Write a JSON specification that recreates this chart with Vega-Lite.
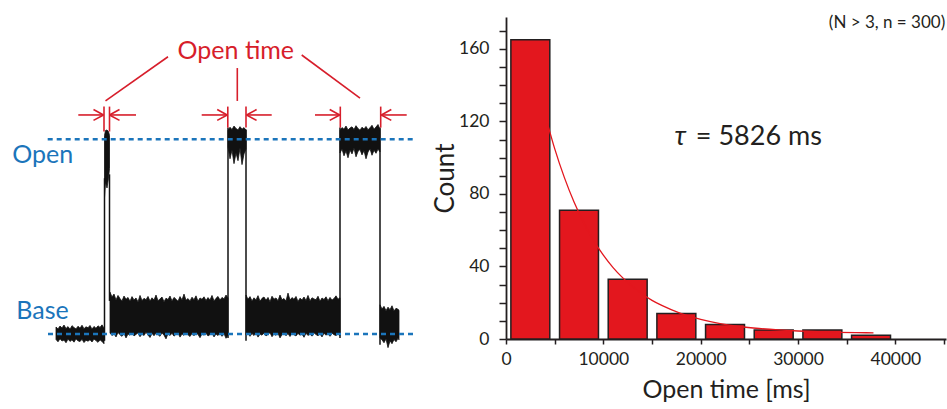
{
  "$schema": "https://vega.github.io/schema/vega-lite/v6.json",
  "width": 440,
  "height": 322,
  "autosize": "none",
  "padding": {"left": 506, "top": 17, "right": 1, "bottom": 70},
  "background": "white",
  "config": {"view": {"stroke": null}, "font": "Lato"},
  "datasets": {
    "bins": [
      {"start": 500, "end": 4500, "count": 165},
      {"start": 5500, "end": 9500, "count": 71},
      {"start": 10500, "end": 14500, "count": 33},
      {"start": 15500, "end": 19500, "count": 14},
      {"start": 20500, "end": 24500, "count": 8},
      {"start": 25500, "end": 29500, "count": 5},
      {"start": 30500, "end": 34500, "count": 5},
      {"start": 35500, "end": 39500, "count": 2}
    ],
    "fit": [
      {"open_time": 4250, "count": 119.1}, {"open_time": 5000, "count": 105.0},
      {"open_time": 6000, "count": 89.0}, {"open_time": 7000, "count": 75.4},
      {"open_time": 8000, "count": 64.0}, {"open_time": 9000, "count": 54.3},
      {"open_time": 10000, "count": 46.3}, {"open_time": 11000, "count": 39.4},
      {"open_time": 12000, "count": 33.7}, {"open_time": 13000, "count": 28.9},
      {"open_time": 14000, "count": 24.8}, {"open_time": 15000, "count": 21.3},
      {"open_time": 16000, "count": 18.5}, {"open_time": 18000, "count": 14.0},
      {"open_time": 20000, "count": 10.8}, {"open_time": 22000, "count": 8.5},
      {"open_time": 24000, "count": 6.9}, {"open_time": 26000, "count": 5.8},
      {"open_time": 28000, "count": 5.0}, {"open_time": 30000, "count": 4.4},
      {"open_time": 32000, "count": 4.0}, {"open_time": 34000, "count": 3.7},
      {"open_time": 36000, "count": 3.5}, {"open_time": 37750, "count": 3.4}
    ],
    "tau_symbol": [
      {"open_time": 17300, "count": 107, "label": "τ"}
    ],
    "tau_value": [
      {"open_time": 32450, "count": 107, "label": "= 5826 ms"}
    ],
    "corner": [
      {"open_time": 45118, "count": 171.4, "label": "(N > 3, n = 300)"}
    ],
    "bands": [
      {"seg": "A", "t": 5.6, "hi": 0.036, "lo": -0.028},
      {"seg": "A", "t": 5.8, "hi": 0.026, "lo": -0.040},
      {"seg": "A", "t": 6.0, "hi": 0.041, "lo": -0.024},
      {"seg": "A", "t": 6.2, "hi": 0.031, "lo": -0.036},
      {"seg": "A", "t": 6.4, "hi": 0.046, "lo": -0.031},
      {"seg": "A", "t": 6.6, "hi": 0.028, "lo": -0.045},
      {"seg": "A", "t": 6.8, "hi": 0.038, "lo": -0.026},
      {"seg": "A", "t": 7.0, "hi": 0.024, "lo": -0.038},
      {"seg": "A", "t": 7.2, "hi": 0.043, "lo": -0.030},
      {"seg": "A", "t": 7.4, "hi": 0.033, "lo": -0.042},
      {"seg": "A", "t": 7.6, "hi": 0.026, "lo": -0.025},
      {"seg": "A", "t": 7.8, "hi": 0.040, "lo": -0.035},
      {"seg": "A", "t": 8.0, "hi": 0.030, "lo": -0.039},
      {"seg": "A", "t": 8.2, "hi": 0.045, "lo": -0.027},
      {"seg": "A", "t": 8.4, "hi": 0.027, "lo": -0.044},
      {"seg": "A", "t": 8.6, "hi": 0.037, "lo": -0.032},
      {"seg": "A", "t": 8.8, "hi": 0.032, "lo": -0.037},
      {"seg": "A", "t": 9.0, "hi": 0.044, "lo": -0.029},
      {"seg": "A", "t": 9.2, "hi": 0.025, "lo": -0.041},
      {"seg": "A", "t": 9.4, "hi": 0.039, "lo": -0.026},
      {"seg": "A", "t": 9.6, "hi": 0.029, "lo": -0.034},
      {"seg": "A", "t": 9.8, "hi": 0.042, "lo": -0.043},
      {"seg": "A", "t": 10.0, "hi": 0.034, "lo": -0.030},
      {"seg": "A", "t": 10.2, "hi": 0.047, "lo": -0.038},
      {"seg": "A", "t": 10.4, "hi": 0.030, "lo": -0.050},
      {"seg": "S", "t": 10.45, "hi": 1.02, "lo": 0.70},
      {"seg": "S", "t": 10.55, "hi": 1.045, "lo": 0.78},
      {"seg": "S", "t": 10.7, "hi": 1.048, "lo": 0.75},
      {"seg": "S", "t": 10.85, "hi": 1.04, "lo": 0.80},
      {"seg": "S", "t": 10.95, "hi": 1.02, "lo": 0.85},
      {"seg": "B", "t": 11.0, "hi": 0.215, "lo": 0.005},
      {"seg": "B", "t": 11.2, "hi": 0.190, "lo": -0.008},
      {"seg": "B", "t": 11.4, "hi": 0.205, "lo": 0.002},
      {"seg": "B", "t": 11.6, "hi": 0.175, "lo": -0.015},
      {"seg": "B", "t": 11.8, "hi": 0.198, "lo": 0.008},
      {"seg": "B", "t": 12.0, "hi": 0.182, "lo": -0.004},
      {"seg": "B", "t": 12.2, "hi": 0.170, "lo": -0.012},
      {"seg": "B", "t": 12.4, "hi": 0.195, "lo": 0.004},
      {"seg": "B", "t": 12.6, "hi": 0.178, "lo": -0.020},
      {"seg": "B", "t": 12.8, "hi": 0.188, "lo": 0.000},
      {"seg": "B", "t": 13.0, "hi": 0.168, "lo": -0.006},
      {"seg": "B", "t": 13.2, "hi": 0.192, "lo": 0.007},
      {"seg": "B", "t": 13.4, "hi": 0.175, "lo": -0.010},
      {"seg": "B", "t": 13.6, "hi": 0.185, "lo": -0.002},
      {"seg": "B", "t": 13.8, "hi": 0.165, "lo": 0.006},
      {"seg": "B", "t": 14.0, "hi": 0.198, "lo": -0.014},
      {"seg": "B", "t": 14.2, "hi": 0.172, "lo": 0.001},
      {"seg": "B", "t": 14.4, "hi": 0.183, "lo": -0.008},
      {"seg": "B", "t": 14.6, "hi": 0.176, "lo": 0.009},
      {"seg": "B", "t": 14.8, "hi": 0.193, "lo": -0.005},
      {"seg": "B", "t": 15.0, "hi": 0.169, "lo": -0.018},
      {"seg": "B", "t": 15.2, "hi": 0.186, "lo": 0.003},
      {"seg": "B", "t": 15.4, "hi": 0.174, "lo": -0.009},
      {"seg": "B", "t": 15.6, "hi": 0.200, "lo": 0.005},
      {"seg": "B", "t": 15.8, "hi": 0.171, "lo": -0.003},
      {"seg": "B", "t": 16.0, "hi": 0.180, "lo": -0.012},
      {"seg": "B", "t": 16.2, "hi": 0.190, "lo": 0.006},
      {"seg": "B", "t": 16.4, "hi": 0.166, "lo": -0.006},
      {"seg": "B", "t": 16.6, "hi": 0.184, "lo": -0.025},
      {"seg": "B", "t": 16.8, "hi": 0.177, "lo": 0.002},
      {"seg": "B", "t": 17.0, "hi": 0.195, "lo": -0.008},
      {"seg": "B", "t": 17.2, "hi": 0.170, "lo": 0.004},
      {"seg": "B", "t": 17.4, "hi": 0.188, "lo": -0.011},
      {"seg": "B", "t": 17.6, "hi": 0.179, "lo": -0.001},
      {"seg": "B", "t": 17.8, "hi": 0.168, "lo": 0.007},
      {"seg": "B", "t": 18.0, "hi": 0.192, "lo": -0.016},
      {"seg": "B", "t": 18.2, "hi": 0.175, "lo": 0.000},
      {"seg": "B", "t": 18.4, "hi": 0.205, "lo": -0.007},
      {"seg": "B", "t": 18.6, "hi": 0.173, "lo": 0.005},
      {"seg": "B", "t": 18.8, "hi": 0.182, "lo": -0.004},
      {"seg": "B", "t": 19.0, "hi": 0.170, "lo": -0.013},
      {"seg": "B", "t": 19.2, "hi": 0.189, "lo": 0.003},
      {"seg": "B", "t": 19.4, "hi": 0.176, "lo": -0.009},
      {"seg": "B", "t": 19.6, "hi": 0.196, "lo": 0.006},
      {"seg": "B", "t": 19.8, "hi": 0.168, "lo": -0.002},
      {"seg": "B", "t": 20.0, "hi": 0.185, "lo": -0.019},
      {"seg": "B", "t": 20.2, "hi": 0.178, "lo": 0.001},
      {"seg": "B", "t": 20.4, "hi": 0.191, "lo": -0.006},
      {"seg": "B", "t": 20.6, "hi": 0.172, "lo": 0.004},
      {"seg": "B", "t": 20.8, "hi": 0.187, "lo": -0.010},
      {"seg": "B", "t": 21.0, "hi": 0.175, "lo": -0.003},
      {"seg": "B", "t": 21.2, "hi": 0.198, "lo": 0.006},
      {"seg": "B", "t": 21.4, "hi": 0.170, "lo": -0.015},
      {"seg": "B", "t": 21.6, "hi": 0.183, "lo": 0.000},
      {"seg": "B", "t": 21.8, "hi": 0.193, "lo": -0.008},
      {"seg": "B", "t": 22.0, "hi": 0.174, "lo": 0.004},
      {"seg": "B", "t": 22.2, "hi": 0.188, "lo": -0.012},
      {"seg": "B", "t": 22.4, "hi": 0.180, "lo": 0.002},
      {"seg": "B", "t": 22.6, "hi": 0.200, "lo": -0.022},
      {"seg": "B", "t": 22.8, "hi": 0.185, "lo": -0.005},
      {"seg": "O2", "t": 22.8, "hi": 1.045, "lo": 0.960},
      {"seg": "O2", "t": 23.0, "hi": 1.062, "lo": 0.900},
      {"seg": "O2", "t": 23.2, "hi": 1.050, "lo": 0.945},
      {"seg": "O2", "t": 23.4, "hi": 1.068, "lo": 0.875},
      {"seg": "O2", "t": 23.6, "hi": 1.055, "lo": 0.930},
      {"seg": "O2", "t": 23.8, "hi": 1.048, "lo": 0.890},
      {"seg": "O2", "t": 24.0, "hi": 1.065, "lo": 0.955},
      {"seg": "O2", "t": 24.2, "hi": 1.052, "lo": 0.870},
      {"seg": "O2", "t": 24.4, "hi": 1.060, "lo": 0.925},
      {"seg": "O2", "t": 24.6, "hi": 1.047, "lo": 0.950},
      {"seg": "C", "t": 24.6, "hi": 0.200, "lo": -0.005},
      {"seg": "C", "t": 24.8, "hi": 0.178, "lo": 0.004},
      {"seg": "C", "t": 25.0, "hi": 0.192, "lo": -0.012},
      {"seg": "C", "t": 25.2, "hi": 0.170, "lo": 0.002},
      {"seg": "C", "t": 25.4, "hi": 0.186, "lo": -0.008},
      {"seg": "C", "t": 25.6, "hi": 0.175, "lo": 0.006},
      {"seg": "C", "t": 25.8, "hi": 0.197, "lo": -0.016},
      {"seg": "C", "t": 26.0, "hi": 0.168, "lo": 0.000},
      {"seg": "C", "t": 26.2, "hi": 0.183, "lo": -0.006},
      {"seg": "C", "t": 26.4, "hi": 0.190, "lo": 0.005},
      {"seg": "C", "t": 26.6, "hi": 0.173, "lo": -0.010},
      {"seg": "C", "t": 26.8, "hi": 0.188, "lo": -0.002},
      {"seg": "C", "t": 27.0, "hi": 0.166, "lo": 0.007},
      {"seg": "C", "t": 27.2, "hi": 0.194, "lo": -0.014},
      {"seg": "C", "t": 27.4, "hi": 0.179, "lo": 0.001},
      {"seg": "C", "t": 27.6, "hi": 0.185, "lo": -0.007},
      {"seg": "C", "t": 27.8, "hi": 0.171, "lo": 0.004},
      {"seg": "C", "t": 28.0, "hi": 0.200, "lo": -0.020},
      {"seg": "C", "t": 28.2, "hi": 0.176, "lo": -0.003},
      {"seg": "C", "t": 28.4, "hi": 0.182, "lo": 0.006},
      {"seg": "C", "t": 28.6, "hi": 0.169, "lo": -0.009},
      {"seg": "C", "t": 28.8, "hi": 0.210, "lo": 0.002},
      {"seg": "C", "t": 29.0, "hi": 0.174, "lo": -0.013},
      {"seg": "C", "t": 29.2, "hi": 0.187, "lo": 0.005},
      {"seg": "C", "t": 29.4, "hi": 0.178, "lo": -0.004},
      {"seg": "C", "t": 29.6, "hi": 0.193, "lo": -0.010},
      {"seg": "C", "t": 29.8, "hi": 0.167, "lo": 0.003},
      {"seg": "C", "t": 30.0, "hi": 0.184, "lo": -0.006},
      {"seg": "C", "t": 30.2, "hi": 0.175, "lo": 0.000},
      {"seg": "C", "t": 30.4, "hi": 0.190, "lo": -0.017},
      {"seg": "C", "t": 30.6, "hi": 0.172, "lo": 0.004},
      {"seg": "C", "t": 30.8, "hi": 0.198, "lo": -0.008},
      {"seg": "C", "t": 31.0, "hi": 0.170, "lo": 0.002},
      {"seg": "C", "t": 31.2, "hi": 0.186, "lo": -0.011},
      {"seg": "C", "t": 31.4, "hi": 0.180, "lo": 0.006},
      {"seg": "C", "t": 31.6, "hi": 0.176, "lo": -0.003},
      {"seg": "C", "t": 31.8, "hi": 0.194, "lo": -0.009},
      {"seg": "C", "t": 32.0, "hi": 0.168, "lo": 0.001},
      {"seg": "C", "t": 32.2, "hi": 0.185, "lo": -0.015},
      {"seg": "C", "t": 32.4, "hi": 0.177, "lo": 0.004},
      {"seg": "C", "t": 32.6, "hi": 0.191, "lo": -0.006},
      {"seg": "C", "t": 32.8, "hi": 0.171, "lo": 0.002},
      {"seg": "C", "t": 33.0, "hi": 0.188, "lo": -0.012},
      {"seg": "C", "t": 33.2, "hi": 0.174, "lo": 0.005},
      {"seg": "C", "t": 33.4, "hi": 0.182, "lo": -0.004},
      {"seg": "C", "t": 33.6, "hi": 0.196, "lo": -0.008},
      {"seg": "C", "t": 33.8, "hi": 0.179, "lo": 0.000},
      {"seg": "C", "t": 34.0, "hi": 0.186, "lo": -0.010},
      {"seg": "O3", "t": 34.0, "hi": 1.045, "lo": 0.930},
      {"seg": "O3", "t": 34.2, "hi": 1.060, "lo": 0.950},
      {"seg": "O3", "t": 34.4, "hi": 1.052, "lo": 0.915},
      {"seg": "O3", "t": 34.6, "hi": 1.068, "lo": 0.940},
      {"seg": "O3", "t": 34.8, "hi": 1.048, "lo": 0.905},
      {"seg": "O3", "t": 35.0, "hi": 1.058, "lo": 0.945},
      {"seg": "O3", "t": 35.2, "hi": 1.064, "lo": 0.925},
      {"seg": "O3", "t": 35.4, "hi": 1.050, "lo": 0.955},
      {"seg": "O3", "t": 35.6, "hi": 1.070, "lo": 0.910},
      {"seg": "O3", "t": 35.8, "hi": 1.055, "lo": 0.938},
      {"seg": "O3", "t": 36.0, "hi": 1.047, "lo": 0.948},
      {"seg": "O3", "t": 36.2, "hi": 1.062, "lo": 0.920},
      {"seg": "O3", "t": 36.4, "hi": 1.053, "lo": 0.942},
      {"seg": "O3", "t": 36.6, "hi": 1.066, "lo": 0.900},
      {"seg": "O3", "t": 36.8, "hi": 1.049, "lo": 0.935},
      {"seg": "O3", "t": 37.0, "hi": 1.059, "lo": 0.952},
      {"seg": "O3", "t": 37.2, "hi": 1.072, "lo": 0.918},
      {"seg": "O3", "t": 37.4, "hi": 1.051, "lo": 0.944},
      {"seg": "O3", "t": 37.6, "hi": 1.063, "lo": 0.928},
      {"seg": "O3", "t": 37.8, "hi": 1.076, "lo": 0.950},
      {"seg": "O3", "t": 38.0, "hi": 1.050, "lo": 0.935},
      {"seg": "D", "t": 38.0, "hi": 0.150, "lo": -0.020},
      {"seg": "D", "t": 38.2, "hi": 0.128, "lo": -0.030},
      {"seg": "D", "t": 38.4, "hi": 0.142, "lo": -0.045},
      {"seg": "D", "t": 38.6, "hi": 0.120, "lo": -0.025},
      {"seg": "D", "t": 38.8, "hi": 0.138, "lo": -0.070},
      {"seg": "D", "t": 39.0, "hi": 0.125, "lo": -0.035},
      {"seg": "D", "t": 39.2, "hi": 0.145, "lo": -0.050},
      {"seg": "D", "t": 39.4, "hi": 0.118, "lo": -0.028},
      {"seg": "D", "t": 39.6, "hi": 0.132, "lo": -0.040},
      {"seg": "D", "t": 39.8, "hi": 0.127, "lo": -0.022},
      {"seg": "D", "t": 39.9, "hi": 0.122, "lo": -0.030}
    ],
    "edges": [
      {"t": 10.45, "v": -0.035, "t2": 10.45, "v2": 0.80},
      {"t": 10.95, "v": 0.82, "t2": 10.95, "v2": 0.17},
      {"t": 22.8, "v": -0.02, "t2": 22.8, "v2": 1.06},
      {"t": 24.6, "v": 1.05, "t2": 24.6, "v2": -0.035},
      {"t": 34.0, "v": -0.02, "t2": 34.0, "v2": 1.06},
      {"t": 38.0, "v": 1.06, "t2": 38.0, "v2": -0.055}
    ],
    "levels": [
      {"t": 4.77, "t2": 41.3, "v": 1},
      {"t": 4.8, "t2": 41.3, "v": 0}
    ],
    "level_labels": [
      {"t": 4.27, "v": 0.880, "label": "Open"},
      {"t": 4.25, "v": 0.0755, "label": "Base"}
    ],
    "open_label": [
      {"t": 23.58, "v": 1.411, "label": "Open time"}
    ],
    "marks": [
      {"t": 7.83, "v": 1.125, "t2": 10.35, "v2": 1.125},
      {"t": 9.35, "v": 1.153, "t2": 10.35, "v2": 1.125},
      {"t": 9.35, "v": 1.097, "t2": 10.35, "v2": 1.125},
      {"t": 10.4, "v": 1.168, "t2": 10.4, "v2": 1.04},
      {"t": 10.95, "v": 1.168, "t2": 10.95, "v2": 1.04},
      {"t": 10.95, "v": 1.125, "t2": 13.6, "v2": 1.125},
      {"t": 11.95, "v": 1.153, "t2": 10.95, "v2": 1.125},
      {"t": 11.95, "v": 1.097, "t2": 10.95, "v2": 1.125},
      {"t": 20.17, "v": 1.125, "t2": 22.72, "v2": 1.125},
      {"t": 21.72, "v": 1.153, "t2": 22.72, "v2": 1.125},
      {"t": 21.72, "v": 1.097, "t2": 22.72, "v2": 1.125},
      {"t": 22.78, "v": 1.168, "t2": 22.78, "v2": 1.06},
      {"t": 24.6, "v": 1.168, "t2": 24.6, "v2": 1.06},
      {"t": 24.66, "v": 1.125, "t2": 27.17, "v2": 1.125},
      {"t": 25.66, "v": 1.153, "t2": 24.66, "v2": 1.125},
      {"t": 25.66, "v": 1.097, "t2": 24.66, "v2": 1.125},
      {"t": 31.5, "v": 1.125, "t2": 33.97, "v2": 1.125},
      {"t": 32.97, "v": 1.153, "t2": 33.97, "v2": 1.125},
      {"t": 32.97, "v": 1.097, "t2": 33.97, "v2": 1.125},
      {"t": 34.03, "v": 1.168, "t2": 34.03, "v2": 1.06},
      {"t": 38.07, "v": 1.168, "t2": 38.07, "v2": 1.06},
      {"t": 38.13, "v": 1.125, "t2": 40.67, "v2": 1.125},
      {"t": 39.13, "v": 1.153, "t2": 38.13, "v2": 1.125},
      {"t": 39.13, "v": 1.097, "t2": 38.13, "v2": 1.125},
      {"t": 16.8, "v": 1.424, "t2": 10.55, "v2": 1.197},
      {"t": 23.73, "v": 1.366, "t2": 23.73, "v2": 1.197},
      {"t": 30.17, "v": 1.433, "t2": 36.0, "v2": 1.211}
    ]
  },
  "resolve": {"scale": {"x": "independent", "y": "independent"}},
  "layer": [
    {
      "data": {"name": "bands"},
      "mark": {"type": "area", "color": "#111111", "stroke": "#111111", "strokeWidth": 0.8, "opacity": 1},
      "encoding": {
        "x": {"field": "t", "type": "quantitative", "axis": null, "scale": {"domain": [0, 42], "range": [-506, -86], "nice": false, "zero": false}},
        "y": {"field": "hi", "type": "quantitative", "axis": null, "scale": {"domain": [0, 1], "range": [317, 122.3], "nice": false, "zero": false}},
        "y2": {"field": "lo"},
        "detail": {"field": "seg", "type": "nominal"}
      }
    },
    {
      "data": {"name": "edges"},
      "mark": {"type": "rule", "color": "#111111", "strokeWidth": 1.5},
      "encoding": {
        "x": {"field": "t", "type": "quantitative", "axis": null, "scale": {"domain": [0, 42], "range": [-506, -86], "nice": false, "zero": false}},
        "y": {"field": "v", "type": "quantitative", "axis": null, "scale": {"domain": [0, 1], "range": [317, 122.3], "nice": false, "zero": false}},
        "x2": {"field": "t2"},
        "y2": {"field": "v2"}
      }
    },
    {
      "data": {"name": "levels"},
      "mark": {"type": "rule", "color": "#1b75bb", "strokeWidth": 2.6, "strokeDash": [5, 4]},
      "encoding": {
        "x": {"field": "t", "type": "quantitative", "axis": null, "scale": {"domain": [0, 42], "range": [-506, -86], "nice": false, "zero": false}},
        "x2": {"field": "t2"},
        "y": {"field": "v", "type": "quantitative", "axis": null, "scale": {"domain": [0, 1], "range": [317, 122.3], "nice": false, "zero": false}}
      }
    },
    {
      "data": {"name": "level_labels"},
      "mark": {"type": "text", "color": "#1b75bb", "fontSize": 25, "font": "Lato", "align": "center", "baseline": "alphabetic"},
      "encoding": {
        "x": {"field": "t", "type": "quantitative", "axis": null, "scale": {"domain": [0, 42], "range": [-506, -86], "nice": false, "zero": false}},
        "y": {"field": "v", "type": "quantitative", "axis": null, "scale": {"domain": [0, 1], "range": [317, 122.3], "nice": false, "zero": false}},
        "text": {"field": "label"}
      }
    },
    {
      "data": {"name": "marks"},
      "mark": {"type": "rule", "color": "#d71e2b", "strokeWidth": 1.6},
      "encoding": {
        "x": {"field": "t", "type": "quantitative", "axis": null, "scale": {"domain": [0, 42], "range": [-506, -86], "nice": false, "zero": false}},
        "y": {"field": "v", "type": "quantitative", "axis": null, "scale": {"domain": [0, 1], "range": [317, 122.3], "nice": false, "zero": false}},
        "x2": {"field": "t2"},
        "y2": {"field": "v2"}
      }
    },
    {
      "data": {"name": "open_label"},
      "mark": {"type": "text", "color": "#d71e2b", "fontSize": 25, "font": "Lato", "align": "center", "baseline": "alphabetic"},
      "encoding": {
        "x": {"field": "t", "type": "quantitative", "axis": null, "scale": {"domain": [0, 42], "range": [-506, -86], "nice": false, "zero": false}},
        "y": {"field": "v", "type": "quantitative", "axis": null, "scale": {"domain": [0, 1], "range": [317, 122.3], "nice": false, "zero": false}},
        "text": {"field": "label"}
      }
    },
    {
      "data": {"name": "bins"},
      "mark": {"type": "bar", "color": "#e3171e", "stroke": "#231f20", "strokeWidth": 1.5},
      "encoding": {
        "x": {
          "field": "start", "type": "quantitative",
          "scale": {"domain": [0, 45200], "nice": false, "zero": false},
          "axis": {
            "title": "Open time [ms]", "values": [0, 5000, 10000, 15000, 20000, 25000, 30000, 35000, 40000, 45000],
            "format": "d", "labelExpr": "datum.value % 10000 === 0 ? datum.label : ''",
            "grid": false, "domainColor": "#231f20", "domainWidth": 1.8, "tickColor": "#231f20", "tickWidth": 1.5, "tickSize": 5,
            "labelFontSize": 17.5, "labelFont": "Lato", "labelColor": "#231f20", "labelPadding": 6,
            "titleFontSize": 25, "titleFont": "Lato", "titleFontWeight": "normal", "titleColor": "#231f20", "titlePadding": 10,
            "labelFlush": false, "labelOverlap": false
          }
        },
        "x2": {"field": "end"},
        "y": {
          "field": "count", "type": "quantitative",
          "scale": {"domain": [0, 177.6], "nice": false},
          "axis": {
            "title": "Count", "values": [0, 10, 20, 30, 40, 50, 60, 70, 80, 90, 100, 110, 120, 130, 140, 150, 160, 170],
            "labelExpr": "datum.value % 40 === 0 ? datum.label : ''",
            "grid": false, "domainColor": "#231f20", "domainWidth": 1.8, "tickColor": "#231f20", "tickWidth": 1.5, "tickSize": 7,
            "labelFontSize": 17.5, "labelFont": "Lato", "labelColor": "#231f20", "labelPadding": 10,
            "titleFontSize": 26, "titleFont": "Lato", "titleFontWeight": "normal", "titleColor": "#231f20", "titlePadding": 0,
            "labelFlush": false, "labelOverlap": false
          }
        },
        "y2": {"datum": 0}
      }
    },
    {
      "data": {"name": "fit"},
      "mark": {"type": "line", "color": "#e3171e", "strokeWidth": 1.3, "interpolate": "monotone"},
      "encoding": {
        "x": {"field": "open_time", "type": "quantitative", "axis": null, "scale": {"domain": [0, 45200], "nice": false, "zero": false}},
        "y": {"field": "count", "type": "quantitative", "axis": null, "scale": {"domain": [0, 177.6], "nice": false}}
      }
    },
    {
      "data": {"name": "tau_symbol"},
      "mark": {"type": "text", "color": "#231f20", "fontSize": 27, "font": "Lato", "fontStyle": "italic", "align": "left", "baseline": "alphabetic"},
      "encoding": {
        "x": {"field": "open_time", "type": "quantitative", "axis": null, "scale": {"domain": [0, 45200], "nice": false, "zero": false}},
        "y": {"field": "count", "type": "quantitative", "axis": null, "scale": {"domain": [0, 177.6], "nice": false}},
        "text": {"field": "label"}
      }
    },
    {
      "data": {"name": "tau_value"},
      "mark": {"type": "text", "color": "#231f20", "fontSize": 27, "font": "Lato", "align": "right", "baseline": "alphabetic"},
      "encoding": {
        "x": {"field": "open_time", "type": "quantitative", "axis": null, "scale": {"domain": [0, 45200], "nice": false, "zero": false}},
        "y": {"field": "count", "type": "quantitative", "axis": null, "scale": {"domain": [0, 177.6], "nice": false}},
        "text": {"field": "label"}
      }
    },
    {
      "data": {"name": "corner"},
      "mark": {"type": "text", "color": "#231f20", "fontSize": 17, "font": "Lato", "align": "right", "baseline": "alphabetic"},
      "encoding": {
        "x": {"field": "open_time", "type": "quantitative", "axis": null, "scale": {"domain": [0, 45200], "nice": false, "zero": false}},
        "y": {"field": "count", "type": "quantitative", "axis": null, "scale": {"domain": [0, 177.6], "nice": false}},
        "text": {"field": "label"}
      }
    }
  ]
}
